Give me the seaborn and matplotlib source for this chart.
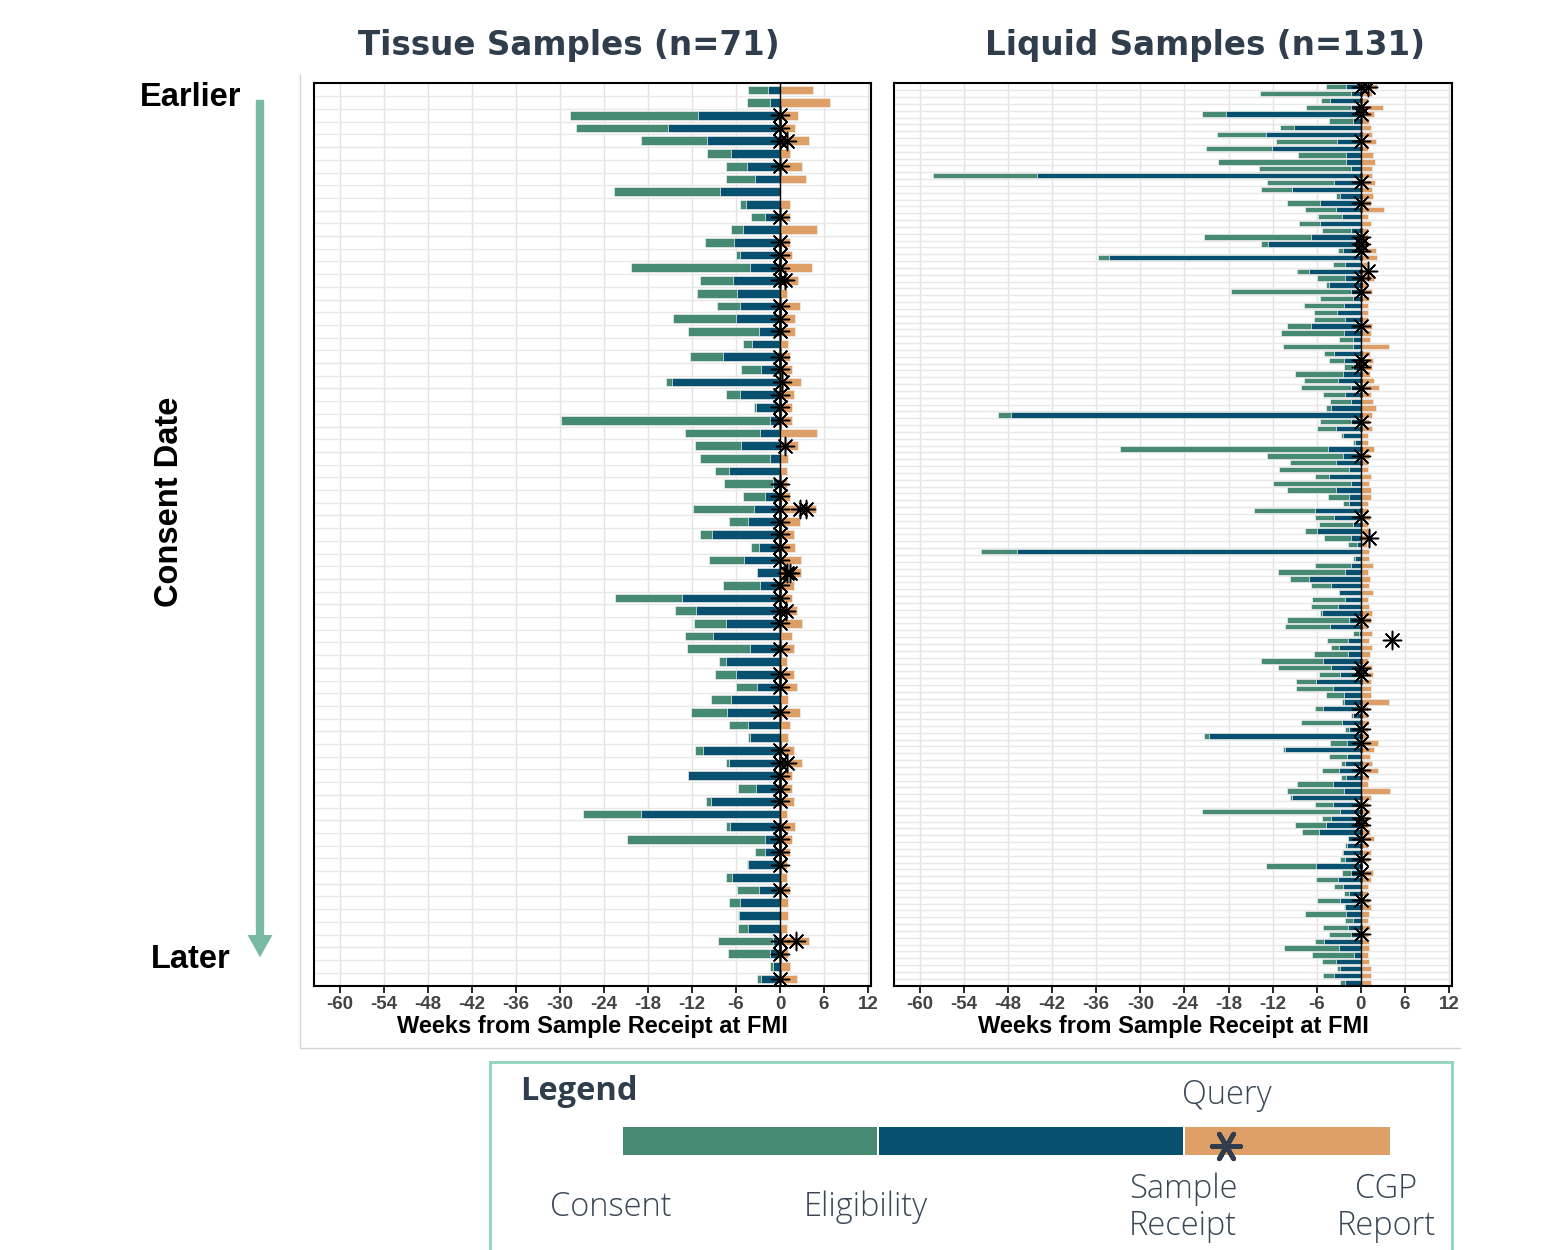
import numpy as np
import pandas as pd
import matplotlib.pyplot as plt
import seaborn as sns
from matplotlib.lines import Line2D
from matplotlib.patches import FancyArrowPatch, ArrowStyle

# Colours
GREEN = '#468a73'
BLUE = '#07506f'
ORANGE = '#dd9f66'
SLATE = '#2f3d4c'
TEAL = '#7ab9a3'

# === Tissue samples: weeks relative to sample receipt (0) ===
tissue_consent = [-4.3, -4.5, -28.6, -27.8, -18.9, -10.0, -7.4, -7.4, -22.6, -5.5,
                  -3.9, -6.7, -10.2, -6.0, -20.3, -10.9, -11.3, -8.6, -14.6, -12.5,
                  -5.0, -12.3, -5.3, -15.6, -7.3, -3.5, -29.8, -13.0, -11.6, -10.9,
                  -8.9, -7.6, -5.0, -11.9, -7.0, -10.9, -4.0, -9.7, -3.2, -7.7,
                  -22.5, -14.3, -11.7, -12.9, -12.7, -8.3, -8.9, -6.0, -9.4, -12.1,
                  -6.9, -4.4, -11.6, -7.4, -12.6, -5.7, -10.1, -26.9, -7.3, -20.9,
                  -3.4, -4.5, -7.3, -5.9, -6.9, -5.7, -5.7, -8.4, -7.1, -1.4, -3.1]
tissue_eligibility = [-1.6, -1.3, -11.2, -15.2, -9.9, -6.7, -4.5, -3.4, -8.2, -4.7,
                      -2.1, -5.0, -6.3, -5.5, -4.1, -6.4, -5.9, -5.5, -6.0, -2.9,
                      -3.8, -7.7, -2.6, -14.7, -5.5, -3.3, -1.3, -2.7, -5.3, -1.3,
                      -6.9, -1.0, -2.1, -3.5, -4.4, -9.3, -2.9, -4.9, -3.2, -2.7,
                      -13.4, -11.5, -7.3, -9.1, -4.1, -7.4, -6.0, -3.1, -6.7, -7.2,
                      -4.3, -4.1, -10.5, -6.9, -12.5, -3.3, -9.4, -19.0, -6.8, -2.1,
                      -2.1, -4.3, -6.5, -2.9, -5.5, -5.6, -4.4, -1.0, -1.3, -1.0, -2.6]
tissue_report = [4.45, 6.8, 2.5, 2.0, 3.9, 1.3, 3.0, 3.6, 0.0, 1.4,
                 1.4, 5.0, 1.4, 1.7, 4.3, 2.4, 1.0, 2.7, 2.0, 2.1,
                 1.1, 1.4, 1.6, 2.8, 1.9, 1.6, 1.7, 5.1, 2.5, 1.1,
                 0.9, 1.0, 1.4, 4.9, 2.7, 1.9, 2.0, 2.8, 2.8, 1.9,
                 1.7, 2.3, 3.0, 1.7, 1.9, 1.0, 1.9, 2.3, 1.1, 2.7,
                 1.4, 1.1, 1.9, 3.0, 1.6, 1.6, 1.9, 1.0, 2.1, 1.7,
                 1.3, 1.0, 0.9, 1.4, 1.1, 1.1, 1.0, 3.9, 1.1, 1.3, 2.3]
tissue_query_sample = [3, 4, 5, 5, 7, 11, 13, 14, 15, 16, 16, 18, 19, 20, 22, 23, 24, 25,
                       26, 27, 29, 32, 33, 34, 34, 34, 35, 36, 37, 38, 39, 39, 40, 41,
                       42, 42, 43, 45, 47, 48, 50, 53, 54, 54, 55, 56, 57, 59, 60, 61,
                       62, 64, 68, 68, 69, 71]
tissue_query_week = [0, 0, 0, 0.9, 0, 0, 0, 0, 0, 0, 0.7, 0, 0, 0, 0, 0, 0.3, 0,
                     0, 0, 0.7, 0, 0, 0, 2.7, 3.6, 0, 0, 0, 0, 1.0, 1.3, 0, 0,
                     0, 0.8, 0, 0, 0, 0, 0, 0, 0, 0.9, 0, 0, 0, 0, 0, 0,
                     0, 0, 0, 2.2, 0, 0]

# === Liquid samples ===
liquid_consent = [-4.7, -13.7, -5.4, -7.4, -21.6, -4.3, -11.0, -19.6, -11.5, -21.1,
                  -8.6, -19.4, -13.9, -58.2, -12.7, -13.6, -3.4, -10.0, -7.6, -5.8,
                  -8.4, -5.3, -21.3, -13.6, -3.1, -35.7, -3.8, -8.7, -6.0, -4.8,
                  -17.6, -5.6, -7.7, -6.4, -6.4, -10.1, -10.8, -3.0, -10.6, -5.0,
                  -4.3, -2.3, -9.0, -7.7, -8.2, -5.1, -4.2, -4.8, -49.4, -5.6,
                  -6.0, -2.7, -1.0, -32.8, -12.7, -9.7, -11.1, -6.3, -12.0, -10.0,
                  -4.4, -2.4, -14.6, -6.2, -5.7, -7.6, -5.0, -1.7, -51.7, -1.0,
                  -6.3, -11.3, -9.6, -6.8, -3.0, -6.6, -6.8, -5.6, -10.1, -10.3,
                  -1.1, -4.6, -4.0, -6.4, -13.6, -11.3, -5.7, -8.8, -8.8, -4.8,
                  -2.5, -6.3, -1.3, -8.2, -2.1, -21.4, -4.2, -10.6, -4.3, -2.7,
                  -5.3, -2.7, -8.7, -10.1, -9.7, -6.3, -21.6, -5.3, -9.0, -8.0,
                  -1.7, -2.1, -2.5, -2.9, -12.9, -2.5, -6.1, -3.7, -2.3, -6.0,
                  -2.3, -7.6, -2.1, -5.1, -4.3, -6.3, -10.4, -6.7, -5.3, -3.3,
                  -5.1, -2.8]
liquid_eligibility = [-2.0, -1.4, -4.2, -1.4, -18.3, -1.0, -9.1, -12.9, -3.3, -12.1,
                      -2.0, -2.0, -1.3, -44.1, -3.7, -9.3, -2.9, -5.6, -3.4, -2.5,
                      -5.6, -1.3, -6.8, -12.6, -2.4, -34.3, -2.1, -7.0, -2.1, -4.3,
                      -1.4, -1.1, -2.3, -3.3, -2.1, -6.8, -2.3, -1.0, -1.0, -3.6,
                      -2.3, -1.0, -2.4, -3.1, -1.4, -2.1, -1.4, -4.0, -47.6, -1.4,
                      -3.4, -2.4, -0.8, -4.4, -2.4, -3.4, -1.6, -4.3, -1.3, -3.4,
                      -1.6, -1.6, -6.3, -3.6, -1.0, -6.0, -1.4, -0.5, -46.8, -0.8,
                      -1.3, -2.1, -7.0, -4.0, -3.0, -2.1, -3.1, -5.3, -1.6, -4.2,
                      -0.3, -1.7, -3.0, -1.7, -5.1, -4.0, -2.9, -6.1, -3.8, -2.3,
                      -2.3, -5.1, -1.1, -2.5, -1.6, -20.7, -1.9, -10.3, -1.9, -2.1,
                      -3.0, -2.0, -3.8, -2.3, -9.3, -3.8, -2.9, -4.0, -4.8, -5.7,
                      -1.7, -1.9, -2.4, -2.1, -6.1, -1.4, -3.1, -2.4, -1.6, -2.9,
                      -2.1, -2.0, -1.1, -1.7, -1.3, -5.0, -3.0, -0.9, -3.4, -2.9,
                      -3.7, -2.2]
liquid_report = [2.2, 1.5, 1.0, 3.0, 1.8, 1.1, 1.4, 1.5, 2.0, 1.0,
                 1.7, 1.9, 1.5, 1.5, 1.9, 1.5, 1.7, 1.4, 3.1, 1.0,
                 1.4, 1.0, 1.0, 1.1, 2.0, 2.2, 0.8, 0.8, 1.8, 0.8,
                 1.5, 1.1, 1.0, 1.0, 1.0, 1.5, 1.4, 1.3, 3.8, 1.3,
                 1.7, 1.5, 1.3, 1.8, 2.5, 1.4, 1.7, 2.1, 1.5, 1.1,
                 1.5, 1.0, 1.0, 1.8, 1.1, 1.0, 1.0, 1.4, 1.1, 1.4,
                 1.4, 1.0, 1.0, 1.3, 1.0, 1.0, 0.8, 0.8, 1.1, 1.1,
                 1.7, 1.0, 1.3, 1.1, 1.7, 1.0, 1.1, 1.5, 1.4, 1.0,
                 1.5, 1.1, 1.5, 1.3, 1.0, 1.5, 1.7, 1.4, 1.4, 1.4,
                 3.8, 1.0, 1.0, 1.1, 1.0, 1.0, 2.3, 1.8, 1.3, 1.5,
                 2.3, 1.1, 1.0, 4.0, 1.4, 1.0, 1.3, 1.1, 1.0, 1.3,
                 1.8, 1.0, 1.4, 1.1, 0.2, 1.7, 1.4, 1.0, 1.0, 1.1,
                 1.4, 1.1, 1.0, 1.3, 1.0, 1.1, 1.1, 1.0, 1.1, 1.4,
                 1.4, 1.4]
liquid_query_sample = [1, 1, 4, 5, 9, 15, 18, 23, 24, 25, 28, 29, 31, 36, 41, 42, 45, 50,
                       55, 64, 67, 79, 82, 86, 87, 92, 95, 97, 101, 106, 108, 109, 111,
                       114, 116, 120, 125]
liquid_query_week = [0, 1.0, 0, 0, 0, 0, 0, 0, 0, 0, 1.0, 0, 0, 0, 0, 0, 0, 0,
                     0, 0, 1.1, 0, 4.3, 0, 0, 0, 0, 0, 0, 0, 0, 0, 0,
                     0, 0, 0, 0]

week_ticks = list(range(-60, 13, 6))
panel_titles = ['Tissue Samples (n=71)', 'Liquid Samples (n=131)']
x_label = 'Weeks from Sample Receipt at FMI'
legend_labels = ['Consent', 'Eligibility', 'Sample\nReceipt', 'CGP\nReport']

sns.set_style('ticks')
plt.rcParams['font.family'] = ['Liberation Sans', 'DejaVu Sans']

W, H = 1556, 1250
fig = plt.figure(figsize=(W / 100, H / 100), dpi=100)


def fx(px):
    return px / W


def fy(py):
    return 1 - py / H


def draw_panel(ax, consent, elig, report, q_sample, q_week, bar_h):
    n = len(consent)
    df = pd.DataFrame({'row': np.arange(n), 'consent': consent,
                       'eligibility': elig, 'report': report})
    common = dict(data=df, y='row', orient='h', native_scale=True, width=bar_h,
                  errorbar=None, saturation=1, edgecolor='#eeeeee',
                  linewidth=0.5, ax=ax)
    sns.barplot(x='report', color=ORANGE, **common)
    sns.barplot(x='consent', color=GREEN, **common)
    sns.barplot(x='eligibility', color=BLUE, **common)
    ax.axvline(0, color='black', lw=1, zorder=4)

    qdf = pd.DataFrame({'row': np.array(q_sample) - 1, 'week': q_week})
    sns.scatterplot(data=qdf, x='week', y='row', marker=(8, 2, 0), s=170,
                    color='black', edgecolor='black', linewidth=1.1, ax=ax,
                    zorder=6, legend=False)
    sns.scatterplot(data=qdf, x='week', y='row', marker='o', s=12,
                    color='black', linewidth=0, ax=ax, zorder=7, legend=False)

    ax.set_xlim(-63.5, 12.4)
    ax.set_ylim(n - 1 + 0.55, -0.55)
    ax.set_xticks(week_ticks)
    ax.set_xticklabels([str(t) for t in week_ticks], fontsize=13.5,
                       fontweight='bold', color='#444444')
    ax.set_yticks([])
    ax.set_yticks(np.arange(n - 1) + 0.5, minor=True)
    ax.tick_params(axis='y', which='both', left=False, labelleft=False)
    ax.tick_params(axis='x', length=5, width=1.2, color='black', pad=2)
    ax.grid(axis='x', which='major', color='#e2e2e2', lw=1)
    ax.grid(axis='y', which='minor', color='#e8e8e8', lw=1)
    ax.set_axisbelow(True)
    ax.set_ylabel('')
    ax.set_xlabel(x_label, fontsize=17, fontweight='bold', color='black',
                  labelpad=2)
    for sp in ax.spines.values():
        sp.set_visible(True)
        sp.set_color('black')
        sp.set_linewidth(1.5)


ax_t = fig.add_axes([fx(314), fy(986), fx(871) - fx(314), fy(83) - fy(986)])
ax_l = fig.add_axes([fx(894), fy(986), fx(1452) - fx(894), fy(83) - fy(986)])
draw_panel(ax_t, tissue_consent, tissue_eligibility, tissue_report,
           tissue_query_sample, tissue_query_week, 0.68)
draw_panel(ax_l, liquid_consent, liquid_eligibility, liquid_report,
           liquid_query_sample, liquid_query_week, 0.78)

# Panel titles
title_kw = dict(fontsize=23.5, fontweight='bold', color=SLATE, ha='center',
                va='center', family=['DejaVu Sans'])
fig.text(fx(569), fy(45), panel_titles[0], **title_kw)
fig.text(fx(1205), fy(45), panel_titles[1], **title_kw)

# Consent date axis on the left
side_kw = dict(fontsize=23.5, fontweight='bold', color='black', ha='center', va='center')
fig.text(fx(191), fy(98), 'Earlier', **side_kw)
fig.text(fx(191), fy(960), 'Later', **side_kw)
fig.text(fx(170), fy(502), 'Consent Date', rotation=90, **side_kw)
arrow = FancyArrowPatch((fx(260), fy(97)), (fx(260), fy(960)),
                        transform=fig.transFigure,
                        arrowstyle=ArrowStyle.Simple(head_length=1.6, head_width=1.8,
                                                     tail_width=0.6),
                        mutation_scale=10, color=TEAL, lw=0)
fig.add_artist(arrow)

# light frame round the chart area
fig.add_artist(Line2D([fx(300), fx(300)], [fy(75), fy(1048)], color='#d4d4d4', lw=1))
fig.add_artist(Line2D([fx(300), fx(1460)], [fy(1048), fy(1048)], color='#d4d4d4', lw=1))

# Legend box
ax_leg = fig.add_axes([fx(490), fy(1252), fx(1452) - fx(490), fy(1062) - fy(1252)])
ax_leg.set_xlim(490, 1452)
ax_leg.set_ylim(1252, 1062)
ax_leg.set_xticks([])
ax_leg.set_yticks([])
for name, sp in ax_leg.spines.items():
    sp.set_color('#8ed3bd')
    sp.set_linewidth(2)
ax_leg.spines['bottom'].set_visible(False)

seg_edges = [622, 878, 1184, 1391]
seg_colors = [GREEN, BLUE, ORANGE]
for i, c in enumerate(seg_colors):
    ax_leg.barh(1141, seg_edges[i + 1] - seg_edges[i] - 2, left=seg_edges[i] + 1,
                height=28, color=c, lw=0)
ax_leg.scatter([1226], [1146], marker=(6, 2, 90), s=420, color=SLATE, lw=3.4,
               zorder=5)

leg_font = ['Open Sans', 'DejaVu Sans']
ax_leg.text(520, 1092, 'Legend', fontsize=23.5, fontweight='bold', color=SLATE,
            ha='left', va='center', family=leg_font)
lab_kw = dict(fontsize=23.5, color='#3b4755', ha='center', va='center',
              family=leg_font, fontweight='light', linespacing=1.15)
ax_leg.text(1227, 1095, 'Query', **lab_kw)
ax_leg.text(611, 1207, legend_labels[0], **lab_kw)
ax_leg.text(866, 1207, legend_labels[1], **lab_kw)
ax_leg.text(1183, 1208, legend_labels[2], **lab_kw)
ax_leg.text(1386, 1208, legend_labels[3], **lab_kw)

fig.savefig('out.png', dpi=100)
